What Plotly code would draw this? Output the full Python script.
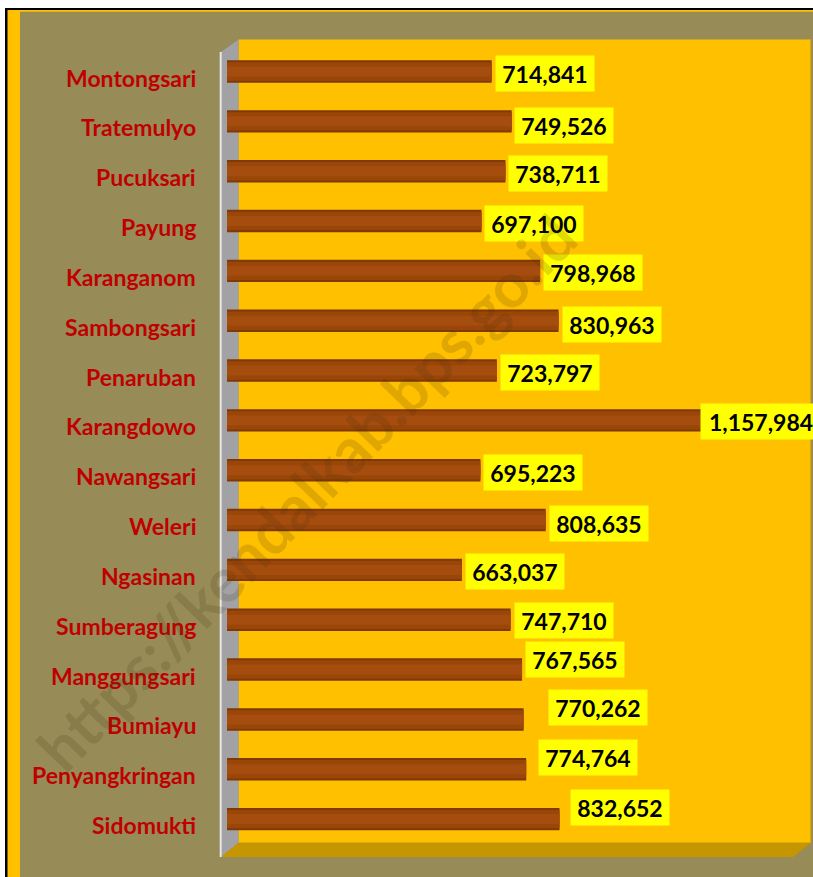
import plotly.graph_objects as go

# ---------------- data ----------------
categories = ["Montongsari", "Tratemulyo", "Pucuksari", "Payung", "Karanganom",
              "Sambongsari", "Penaruban", "Karangdowo", "Nawangsari", "Weleri",
              "Ngasinan", "Sumberagung", "Manggungsari", "Bumiayu",
              "Penyangkringan", "Sidomukti"]
values = [714841, 749526, 738711, 697100, 798968, 830963, 723797, 1157984,
          695223, 808635, 663037, 747710, 767565, 770262, 774764, 832652]
value_labels = ["714,841", "749,526", "738,711", "697,100", "798,968", "830,963",
                "723,797", "1,157,984", "695,223", "808,635", "663,037", "747,710",
                "767,565", "770,262", "774,764", "832,652"]
watermark = "https://kendalkab.bps.go.id"

# label box nudges (pixels): horizontal, vertical (+ = up)
label_dx = [3, 2, 3, 3, 3, 3, 3, -47, 3, 3, 3, 3, 3, 24, 12, 10]
label_dy = [-2, -4, -2, -2, -2, -4, -2, -1, -2, -3, -2, -1, 10, 12, 12, 12]

W, H = 813, 877


def px(x):
    return x / W


def py(y):
    return 1 - y / H


OLIVE = "#978C58"
GOLD = "#FFC000"
FLOOR = "#C69600"
WALL = "#A2A2A4"
RED = "#C00000"

fig = go.Figure()

# bars (layered to imitate the cylinder shading)
fig.add_trace(go.Bar(x=values, y=categories, orientation="h", width=0.45,
                     marker=dict(color="#7F3905", line=dict(width=0)),
                     hoverinfo="skip", showlegend=False))
fig.add_trace(go.Bar(x=values, y=categories, orientation="h", width=0.37,
                     marker=dict(color="#9B4609", line=dict(width=0)),
                     hoverinfo="skip", showlegend=False))
fig.add_trace(go.Bar(x=values, y=categories, orientation="h", width=0.2,
                     marker=dict(color="#A54D0E", line=dict(width=0)),
                     hoverinfo="skip", showlegend=False))

shapes = []
# outer frame: black line, yellow stripe, olive background
shapes.append(dict(type="rect", xref="paper", yref="paper", x0=px(5), x1=px(W + 5),
                   y0=py(H + 5), y1=py(8), fillcolor="#000000", line=dict(width=0), layer="below"))
shapes.append(dict(type="rect", xref="paper", yref="paper", x0=px(7.5), x1=px(W + 5),
                   y0=py(H + 5), y1=py(10), fillcolor=GOLD, line=dict(width=0), layer="below"))
shapes.append(dict(type="rect", xref="paper", yref="paper", x0=px(20), x1=px(W + 5),
                   y0=py(H + 5), y1=py(11.8), fillcolor=OLIVE, line=dict(width=0), layer="below"))
# back wall
shapes.append(dict(type="rect", xref="paper", yref="paper", x0=px(238.5), x1=px(810.7),
                   y0=py(842.7), y1=py(39.5), fillcolor=GOLD, line=dict(width=0), layer="below"))
shapes.append(dict(type="line", xref="paper", yref="paper", x0=px(810.7), x1=px(810.7),
                   y0=py(842.7), y1=py(39.5), line=dict(color="#D9A400", width=1), layer="below"))


def path(pts):
    return "M " + " L ".join(f"{px(a):.5f},{py(b):.5f}" for a, b in pts) + " Z"


# side wall
shapes.append(dict(type="path", xref="paper", yref="paper",
                   path=path([(221, 52), (238.5, 39.5), (238.5, 842.7), (221, 857)]),
                   fillcolor=WALL, line=dict(width=0), layer="below"))
# floor
shapes.append(dict(type="path", xref="paper", yref="paper",
                   path=path([(221, 857), (238.5, 842.7), (811, 842.7), (793, 857)]),
                   fillcolor=FLOOR, line=dict(width=0), layer="below"))
# axis line
shapes.append(dict(type="line", xref="paper", yref="paper", x0=px(220.7), x1=px(220.7),
                   y0=py(857), y1=py(52), line=dict(color="#E6E6E6", width=2), layer="below"))

annotations = []
# category labels
for c in categories:
    annotations.append(dict(x=px(198), xref="paper", y=c, yref="y", text=c,
                            xanchor="right", yanchor="middle", showarrow=False,
                            yshift=-6,
                            font=dict(family="Lato", size=23, color=RED, weight="bold")))
# value labels
for v, c, t, dx, dy in zip(values, categories, value_labels, label_dx, label_dy):
    wide = len(t) > 7
    annotations.append(dict(x=v, xref="x", y=c, yref="y", text=t,
                            xanchor="left", yanchor="middle", showarrow=False,
                            xshift=dx, yshift=dy,
                            width=112 if wide else 90, height=27, borderpad=4,
                            bgcolor="#FFFF00", align="center",
                            font=dict(family="Lato", size=23, color="#000000", weight="bold")))
# watermark
annotations.append(dict(x=px(306), y=py(492), xref="paper", yref="paper", text=watermark,
                        showarrow=False, textangle=-46, xanchor="center", yanchor="middle",
                        font=dict(family="Lato", size=62, color="rgba(70,50,10,0.17)",
                                  weight="bold")))

fig.update_layout(
    width=W, height=H,
    margin=dict(l=0, r=0, t=0, b=0),
    paper_bgcolor="#FFFFFF",
    plot_bgcolor="rgba(0,0,0,0)",
    barmode="overlay",
    showlegend=False,
    shapes=shapes,
    annotations=annotations,
    xaxis=dict(domain=[px(227), px(810.7)], range=[254900, 1269150],
               showgrid=False, zeroline=False, showticklabels=False, showline=False,
               fixedrange=True),
    yaxis=dict(domain=[py(849.6), py(46.6)], autorange="reversed",
               categoryorder="array", categoryarray=categories,
               showgrid=False, zeroline=False, showticklabels=False, showline=False,
               fixedrange=True),
)

fig.write_html("out.html", config={"displayModeBar": False},
               post_script="document.body.style.margin='0px';document.body.style.overflow='hidden';")
